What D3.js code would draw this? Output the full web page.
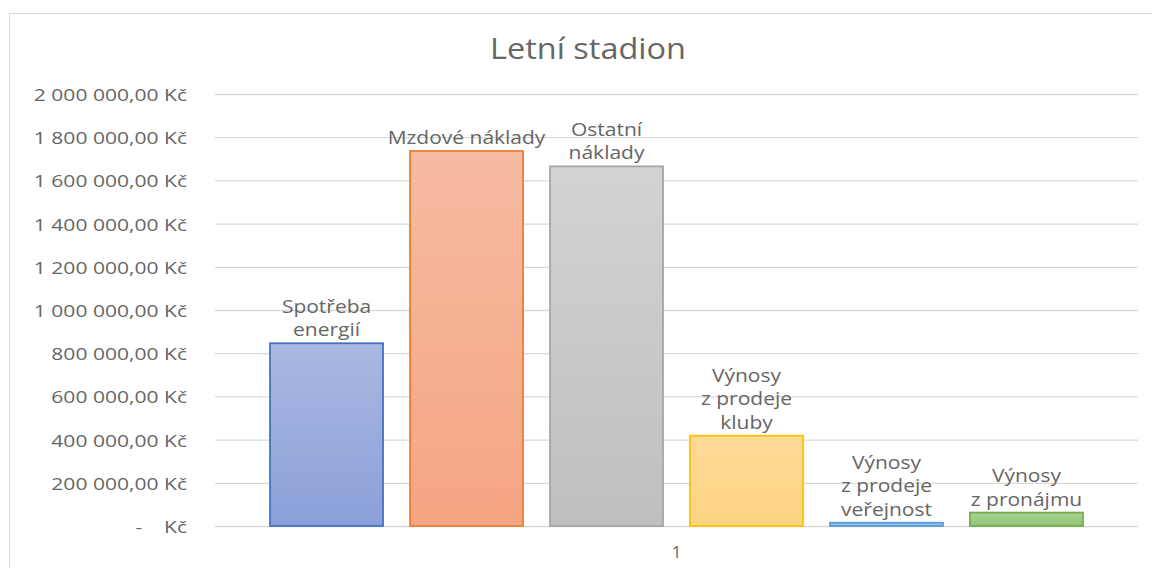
<!DOCTYPE html>
<html>
<head>
<meta charset="utf-8">
<script src="https://cdn.jsdelivr.net/npm/d3@7"></script>
<style>
  body { margin: 0; background: #fff; }
  text { font-family: "Open Sans", sans-serif; fill: #666; }
</style>
</head>
<body>
<script>
// data
const categories = ["1"];
const seriesNames = [
  "Spotřeba energií",
  "Mzdové náklady",
  "Ostatní náklady",
  "Výnosy z prodeje kluby",
  "Výnosy z prodeje veřejnost",
  "Výnosy z pronájmu"
];
const labelLines = [
  ["Spotřeba", "energií"],
  ["Mzdové náklady"],
  ["Ostatní", "náklady"],
  ["Výnosy", "z prodeje", "kluby"],
  ["Výnosy", "z prodeje", "veřejnost"],
  ["Výnosy", "z pronájmu"]
];
const values = [846000, 1736000, 1665000, 418000, 15000, 62000];
const yTicks = [0, 200000, 400000, 600000, 800000, 1000000, 1200000, 1400000, 1600000, 1800000, 2000000];

const strokes = ["#4472C4", "#ED7D31", "#A5A5A5", "#FFC000", "#5B9BD5", "#70AD47"];
const topFill = ["#AAB8E1", "#F6BBA2", "#D3D3D3", "#FFDB98", "#A9CBEA", "#ACD394"];
const botFill = ["#8AA0D8", "#F5A582", "#BFBFBF", "#FDD483", "#8FB9E2", "#90C475"];

const width = 1152, height = 568;
const sx = 1.2; // text in the reference is stretched horizontally
const textColor = "#666";

const svg = d3.select("body").append("svg")
  .attr("width", width)
  .attr("height", height);

const defs = svg.append("defs");
seriesNames.forEach((s, i) => {
  const g = defs.append("linearGradient")
    .attr("id", "grad" + i)
    .attr("x1", 0).attr("y1", 0).attr("x2", 0).attr("y2", 1);
  g.append("stop").attr("offset", "0%").attr("stop-color", topFill[i]);
  g.append("stop").attr("offset", "100%").attr("stop-color", botFill[i]);
});

// chart border
svg.append("rect")
  .attr("x", 9.5).attr("y", 13.5)
  .attr("width", 1160).attr("height", 600)
  .attr("fill", "none")
  .attr("stroke", "#d9d9d9");

const plot = { left: 215, right: 1138, top: 94, bottom: 526 };

const y = d3.scaleLinear()
  .domain([0, 2000000])
  .range([plot.bottom, plot.top]);

const x0 = d3.scaleBand()
  .domain(categories)
  .range([plot.left, plot.right])
  .paddingInner(0)
  .paddingOuter(0.0677);

const x1 = d3.scaleBand()
  .domain(seriesNames)
  .range([0, x0.bandwidth()])
  .paddingInner(0.193)
  .paddingOuter(0);

const cz = d3.formatLocale({ decimal: ",", thousands: "\u00a0", grouping: [3], currency: ["", ""] });
const fmt = cz.format(",.2f");
const tickFmt = d => d === 0 ? "-\u00a0\u00a0\u00a0\u00a0Kč" : fmt(d) + " Kč";

// y axis + gridlines
const ysx = 1.24;
const yAxis = svg.append("g")
  .attr("transform", `translate(${plot.left},0)`)
  .call(d3.axisLeft(y)
    .tickValues(yTicks)
    .tickSize(-(plot.right - plot.left))
    .tickPadding(28)
    .tickFormat(tickFmt));
yAxis.select(".domain").remove();
yAxis.selectAll(".tick line").attr("stroke", "#d9d9d9").attr("stroke-width", 1.3);
yAxis.selectAll(".tick text")
  .attr("font-size", 17)
  .attr("fill", textColor)
  .attr("font-family", "Open Sans")
  .attr("dy", "0.38em")
  .attr("x", -28 / ysx)
  .attr("transform", `scale(${ysx},1)`);

// x axis
const xAxis = svg.append("g")
  .attr("transform", `translate(0,${plot.bottom})`)
  .call(d3.axisBottom(x0).tickSize(0).tickPadding(20));
xAxis.select(".domain").remove();
xAxis.selectAll(".tick text")
  .attr("font-size", 17)
  .attr("fill", textColor)
  .attr("font-family", "Open Sans");

// bars
const group = svg.append("g")
  .selectAll("g")
  .data(categories)
  .join("g")
  .attr("transform", d => `translate(${x0(d)},0)`);

group.selectAll("rect")
  .data(seriesNames.map((s, i) => ({ name: s, value: values[i], i })))
  .join("rect")
  .attr("x", d => x1(d.name))
  .attr("y", d => y(d.value))
  .attr("width", x1.bandwidth())
  .attr("height", d => y(0) - y(d.value))
  .attr("fill", d => `url(#grad${d.i})`)
  .attr("stroke", d => strokes[d.i])
  .attr("stroke-width", 1.8);

// data labels (series names) above bars
const lineH = 23.5;
group.selectAll("g.label")
  .data(seriesNames.map((s, i) => ({ name: s, value: values[i], i })))
  .join("g")
  .attr("class", "label")
  .attr("transform", d => `translate(${x1(d.name) + x1.bandwidth() / 2},${y(d.value) - 7})`)
  .each(function(d) {
    const lines = labelLines[d.i];
    const n = lines.length;
    d3.select(this).selectAll("text")
      .data(lines)
      .join("text")
      .attr("text-anchor", "middle")
      .attr("font-size", 17.5)
      .attr("fill", textColor)
      .attr("transform", (l, k) => `translate(0,${-(n - 1 - k) * lineH}) scale(${sx},1)`)
      .text(l => l);
  });

// title
svg.append("text")
  .attr("text-anchor", "middle")
  .attr("font-size", 29)
  .attr("transform", `translate(588,59) scale(1.12,1)`)
  .attr("fill", textColor)
  .text("Letní stadion");
</script>
</body>
</html>
